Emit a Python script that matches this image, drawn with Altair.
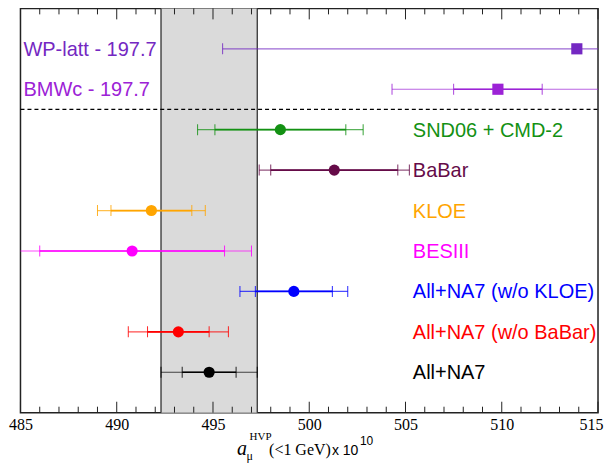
import altair as alt
import pandas as pd

labels = ["WP-latt - 197.7", "BMWc - 197.7", "SND06 + CMD-2", "BaBar", "KLOE",
          "BESIII", "All+NA7 (w/o KLOE)", "All+NA7 (w/o BaBar)", "All+NA7"]
groups = ["lattice", "lattice", "data", "data", "data", "data", "data", "data", "data"]
markers = ["square", "square", "circle", "circle", "circle", "circle", "circle", "circle", "circle"]
central = [513.9, 509.8, 498.5, 501.3, 491.8, 490.8, 499.2, 493.2, 494.8]
stat_lo = [None, 507.5, 495.1, 498.0, 489.7, 486.0, 497.2, 491.6, 493.4]
stat_hi = [None, 512.1, 501.9, 504.6, 493.9, 495.6, 501.2, 494.8, 496.2]
tot_lo = [495.5, 504.3, 494.2, 497.4, 489.0, 484.7, 496.4, 490.6, 492.3]
tot_hi = [532.3, 515.3, 502.8, 505.2, 494.6, 497.0, 502.0, 495.8, 497.3]
colors = ["#7428c2", "#9c22d6", "#139113", "#650b48", "#ffa500", "#ff00ff",
          "#0000ff", "#ff0000", "#000000"]

band_lo, band_hi = 492.3, 497.3
major_ticks = [485, 490, 495, 500, 505, 510, 515]
minor_ticks = [v for v in range(486, 515) if v % 5 != 0]
title_parts = ["a", "μ", "HVP", "(<1 GeV)", "x 10", "10"]

SERIF = "'Liberation Serif', 'Times New Roman', 'DejaVu Serif', serif"
SANS = "'Liberation Sans', Arial, sans-serif"

W, H = 578.5, 405

rows = list(range(1, len(labels) + 1))
df = pd.DataFrame({
    "label": labels, "group": groups, "marker": markers, "row": rows,
    "central": central, "stat_lo": stat_lo, "stat_hi": stat_hi,
    "tot_lo": tot_lo, "tot_hi": tot_hi,
})
n_lat = groups.count("lattice")

xs = alt.Scale(domain=[485, 515], nice=False, zero=False)
ys = alt.Scale(domain=[0, len(labels) + 1], reverse=True, nice=False, zero=False)
col = alt.Color("label:N", scale=alt.Scale(domain=labels, range=colors), legend=None)

base = alt.Chart(df)

last_tick = major_ticks[-1]
xaxis = alt.Axis(values=major_ticks, format="d", labelFont=SERIF,
                 labelFontSize=16, labelColor="black", ticks=False, domain=False,
                 grid=False, title=None, labelPadding=4, labelFlush=False,
                 labelOverlap=False,
                 labelAlign={"condition": {"test": f"datum.value == {last_tick}",
                                           "value": "right"}, "value": "center"},
                 labelOffset={"condition": {"test": f"datum.value == {last_tick}",
                                            "value": 5}, "value": 0})

band = alt.Chart(pd.DataFrame({"lo": [band_lo], "hi": [band_hi]})).mark_rect(
    color="#dadada").encode(
    x=alt.X("lo:Q", scale=xs, axis=xaxis), x2="hi:Q",
    y=alt.value(0), y2=alt.value(H))

band_edges = alt.Chart(pd.DataFrame({"v": [band_lo, band_hi]})).mark_rule(
    color="#333333", strokeWidth=1.3).encode(
    x=alt.X("v:Q", scale=xs), y=alt.value(0), y2=alt.value(H))

sep = alt.Chart(pd.DataFrame({"r": [n_lat + 0.5]})).mark_rule(
    color="black", strokeDash=[4, 3], strokeWidth=1.2).encode(
    y=alt.Y("r:Q", scale=ys, axis=None), x=alt.value(0), x2=alt.value(W))

tot = base.mark_rule(strokeWidth=1.2, opacity=0.7, clip=True).encode(
    x=alt.X("tot_lo:Q", scale=xs), x2="tot_hi:Q",
    y=alt.Y("row:Q", scale=ys, axis=None), color=col)

stat = base.mark_rule(strokeWidth=1.7, clip=True).encode(
    x=alt.X("stat_lo:Q", scale=xs), x2="stat_hi:Q",
    y=alt.Y("row:Q", scale=ys), color=col)

caps = base.transform_fold(["tot_lo", "tot_hi", "stat_lo", "stat_hi"], as_=["k", "v"]
).transform_filter("isValid(datum.v)").mark_tick(
    orient="vertical", size=11, thickness=1, opacity=0.85, clip=True).encode(
    x=alt.X("v:Q", scale=xs), y=alt.Y("row:Q", scale=ys), color=col)

pts = base.mark_point(filled=True, opacity=1, size=125).encode(
    x=alt.X("central:Q", scale=xs), y=alt.Y("row:Q", scale=ys),
    shape=alt.Shape("marker:N", scale=None), color=col)

lab_left = base.transform_filter(alt.datum.group == "lattice").mark_text(
    align="left", baseline="middle", font=SANS, fontSize=20, dy=1).encode(
    x=alt.value(3), y=alt.Y("row:Q", scale=ys), text="label:N", color=col)

lab_right = base.transform_filter(alt.datum.group == "data").mark_text(
    align="left", baseline="middle", font=SANS, fontSize=20, dy=1,
    clip=True).encode(
    x=alt.value(393), y=alt.Y("row:Q", scale=ys), text="label:N", color=col)

tick_layers = []
for vals, ln in [(major_ticks, 11), (minor_ticks, 6)]:
    tdf = pd.DataFrame({"v": vals})
    tick_layers.append(alt.Chart(tdf).mark_rule(color="#222222", strokeWidth=1).encode(
        x=alt.X("v:Q", scale=xs), y=alt.value(H - ln), y2=alt.value(H)))
    tick_layers.append(alt.Chart(tdf).mark_rule(color="#222222", strokeWidth=1).encode(
        x=alt.X("v:Q", scale=xs), y=alt.value(0), y2=alt.value(ln)))

def tpart(txt, x, y, font, size, style="normal"):
    return alt.Chart(alt.Data(values=[{"t": txt}])).mark_text(
        align="left", baseline="alphabetic", font=font, fontSize=size,
        fontStyle=style, color="black").encode(
        x=alt.value(x), y=alt.value(y), text="t:N")

title_layers = [
    tpart(title_parts[0], 217, 447.5, SERIF, 20, "italic"),
    tpart(title_parts[1], 226.5, 452, SERIF, 12),
    tpart(title_parts[2], 229.5, 432, SERIF, 11),
    tpart(title_parts[3], 249, 447.5, SERIF, 16),
    tpart(title_parts[4], 312, 447.5, SANS, 14),
    tpart(title_parts[5], 340, 437.5, SANS, 12),
]

chart = alt.layer(
    band, band_edges, sep, tot, stat, caps, pts, lab_left, lab_right,
    *tick_layers, *title_layers
).properties(
    width=W, height=H,
    autosize=alt.AutoSizeParams(type="none"),
    padding={"left": 12.5, "top": 0, "right": 6, "bottom": 50},
).configure_view(stroke="#222222", strokeWidth=1.5)

chart.save("out.html", embed_options={"renderer": "svg", "actions": False})
